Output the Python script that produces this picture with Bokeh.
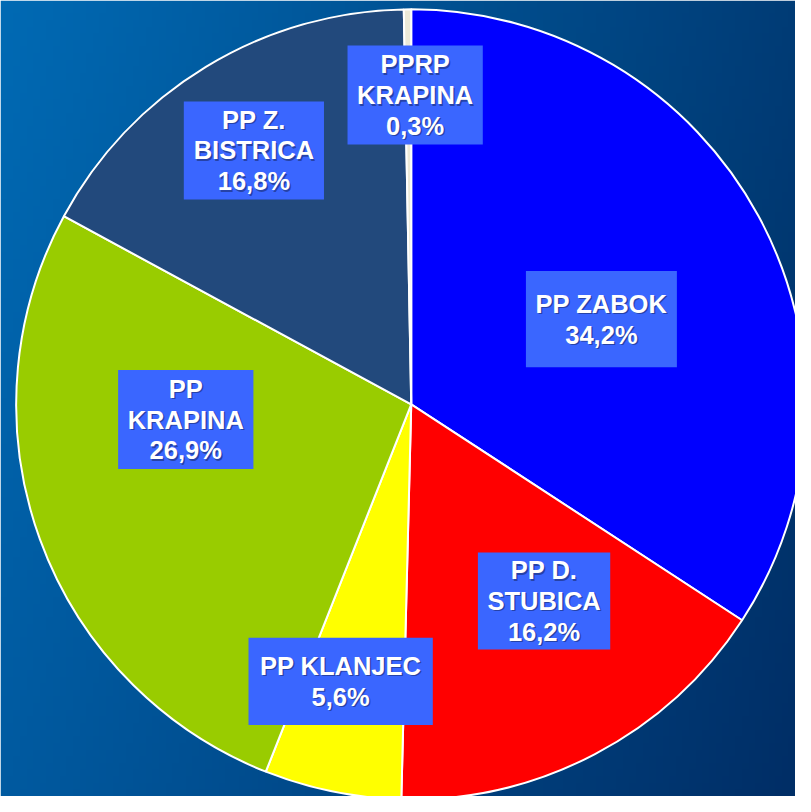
import numpy as np
from bokeh.plotting import figure
from bokeh.models import Range1d, ColumnDataSource
from bokeh.core.properties import value
from bokeh.embed import file_html
from bokeh.resources import INLINE

# ---- data ----
names = ["PP ZABOK", "PP D. STUBICA", "PP KLANJEC", "PP KRAPINA", "PP Z. BISTRICA", "PPRP KRAPINA"]
label_lines = [["PP ZABOK"], ["PP D.", "STUBICA"], ["PP KLANJEC"], ["PP", "KRAPINA"], ["PP Z.", "BISTRICA"], ["PPRP", "KRAPINA"]]
shares = [34.2, 16.2, 5.6, 26.9, 16.8, 0.3]
colors = ["#0000ff", "#ff0000", "#ffff00", "#99cc00", "#22497c", "#ece9d8"]

# ---- layout (reference image coords, y down; whole 811x812 image mapped into the figure) ----
W, H = 795, 796
RW, RH = 811, 812
center = (419, 412)
radius = 403
box_centers = [(613, 325), (554.5, 612.5), (347, 694.5), (189, 427.5), (258.5, 153), (423, 96.5)]
box_sizes = [(154, 98), (135, 99), (188, 89), (138, 101), (143, 100), (138, 101)]
line_gap = 31.5

def Y(yref):
    return RH - yref

p = figure(width=W, height=H, output_backend="svg", toolbar_location=None,
           x_range=Range1d(0, RW), y_range=Range1d(0, RH),
           min_border=0, x_axis_location=None, y_axis_location=None)
p.grid.visible = False
p.outline_line_color = None
p.border_fill_color = "#005a9e"

# background gradient
n = 120
u = np.linspace(0, 1, n)[None, :]
v = np.linspace(1, 0, n)[:, None]   # row 0 = bottom
TL = np.array([0, 106, 180]); TR = np.array([0, 60, 118])
BL = np.array([0, 90, 160]); BR = np.array([0, 46, 102])
img = np.empty((n, n), dtype=np.uint32)
view = img.view(dtype=np.uint8).reshape((n, n, 4))
for k in range(3):
    view[:, :, k] = (TL[k] * (1 - u) * (1 - v) + TR[k] * u * (1 - v) + BL[k] * (1 - u) * v + BR[k] * u * v).astype(np.uint8)
view[:, :, 3] = 255
p.image_rgba(image=[img], x=0, y=0, dw=RW, dh=RH)

# wedges
fr = np.array(shares) / sum(shares)
cum = np.concatenate([[0], np.cumsum(fr)])
start = np.pi / 2 - cum[:-1] * 2 * np.pi
end = np.pi / 2 - cum[1:] * 2 * np.pi
src = ColumnDataSource(dict(start=start, end=end, color=colors, name=names))
p.wedge(x=center[0], y=Y(center[1]), radius=radius, start_angle="start", end_angle="end",
        direction="clock", fill_color="color", line_color="white", line_width=2, source=src)

# labels
bx, by, bw, bh = [], [], [], []
tx, ty, tt = [], [], []
for lines, s, (cx, cy), (w, h) in zip(label_lines, shares, box_centers, box_sizes):
    bx.append(cx); by.append(Y(cy)); bw.append(w); bh.append(h)
    all_lines = lines + [f"{s:.1f}".replace(".", ",") + "%"]
    k = len(all_lines)
    for i, t in enumerate(all_lines):
        tx.append(cx)
        ty.append(Y(cy + (i - (k - 1) / 2) * line_gap))
        tt.append(t)

p.rect(x=bx, y=by, width=bw, height=bh, fill_color="#3a66ff", line_color=None)
font = value("Liberation Sans")
fs = "25.5px"
p.text(x=tx, y=ty, text=tt, text_font=font, text_font_style="bold", text_font_size=fs,
       text_color="black", text_alpha=0.35, text_align="center", text_baseline="middle",
       x_offset=1.5, y_offset=1.5)
p.text(x=tx, y=ty, text=tt, text_font=font, text_font_style="bold", text_font_size=fs,
       text_color="white", text_align="center", text_baseline="middle")

open("out.html", "w").write(file_html(p, INLINE))
